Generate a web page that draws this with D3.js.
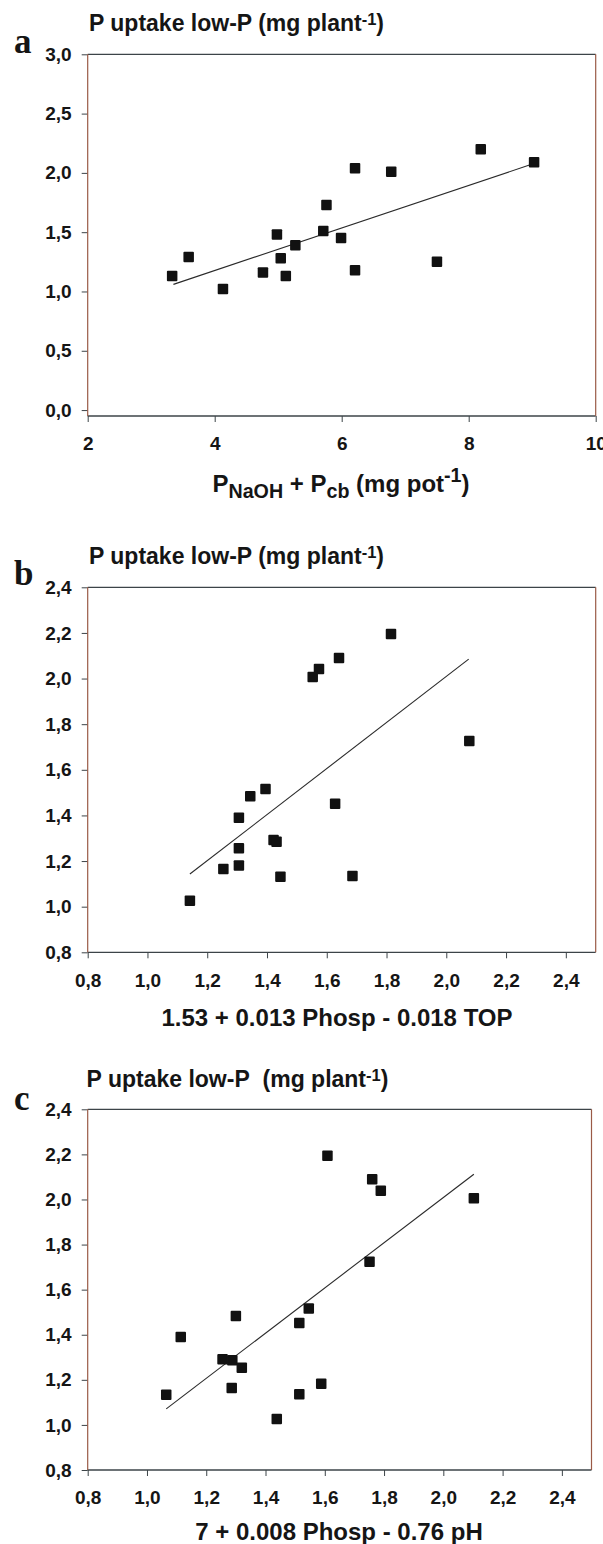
<!DOCTYPE html>
<html>
<head>
<meta charset="utf-8">
<script src="https://cdn.jsdelivr.net/npm/d3@7"></script>
<style>
body { margin: 0; background: #fff; }
svg { display: block; }
.tick text { font-family: "Liberation Sans", Arial, sans-serif; font-weight: bold; font-size: 19px; fill: #151515; }
.tick line { stroke: #3c4448; }
.ttl { font-family: "Liberation Sans", Arial, sans-serif; font-weight: bold; fill: #151515; }
.letter { font-family: "Liberation Serif", "Times New Roman", serif; font-weight: bold; font-size: 35px; fill: #151515; }
</style>
</head>
<body>
<svg width="603" height="1544"></svg>
<script>
// panel a : P uptake vs P NaOH + P cb
var aX = [3.33, 3.59, 4.13, 4.76, 4.98, 5.04, 5.12, 5.27, 5.71, 5.76, 5.99, 6.21, 6.21, 6.78, 7.50, 8.19, 9.03];
var aY = [1.13, 1.29, 1.02, 1.16, 1.48, 1.28, 1.13, 1.39, 1.51, 1.73, 1.45, 2.04, 1.18, 2.01, 1.25, 2.20, 2.09];
var aFit = [[3.35, 1.06], [8.98, 2.07]];
var aXTicks = [2, 4, 6, 8, 10];
var aYTicks = [0, 0.5, 1, 1.5, 2, 2.5, 3];

// panel b : vs 1.53 + 0.013 Phosp - 0.018 TOP
var bX = [1.815, 1.641, 1.574, 1.553, 2.077, 1.395, 1.344, 1.628, 1.306, 1.422, 1.432, 1.306, 1.306, 1.254, 1.445, 1.686, 1.142];
var bY = [2.195, 2.090, 2.042, 2.007, 1.726, 1.516, 1.484, 1.451, 1.390, 1.292, 1.285, 1.256, 1.180, 1.165, 1.131, 1.134, 1.026];
var bFit = [[1.142, 1.143], [2.075, 2.085]];

// panel c : vs 7 + 0.008 Phosp - 0.76 pH
var cX = [1.609, 1.760, 1.789, 2.103, 1.751, 1.546, 1.300, 1.514, 1.114, 1.255, 1.288, 1.320, 1.588, 1.286, 1.065, 1.514, 1.438];
var cY = [2.194, 2.090, 2.039, 2.005, 1.724, 1.516, 1.483, 1.452, 1.390, 1.291, 1.287, 1.254, 1.183, 1.164, 1.134, 1.136, 1.026];
var cFit = [[1.065, 1.071], [2.103, 2.112]];

var bcTicks = [0.8, 1.0, 1.2, 1.4, 1.6, 1.8, 2.0, 2.2, 2.4];

var svg = d3.select("svg");
var comma = d3.formatLocale({decimal: ",", thousands: ".", grouping: [3], currency: ["", ""]}).format(".1f");

var yTitle = [{t: "P uptake low-P (mg plant"}, {t: "-1", sup: true}, {t: ")"}];
var yTitleC = [{t: "P uptake low-P\u00a0\u00a0(mg plant"}, {t: "-1", sup: true}, {t: ")"}];

var panels = [
  {letter: "a", xs: aX, ys: aY, fit: aFit, xDom: [2, 10], yDom: [-0.05, 3], xTicks: aXTicks, yTicks: aYTicks,
   xFmt: d3.format("d"), left: 87.7, right: 595.7, top: 54.3, bottom: 416,
   title: yTitle, titleY: 30.7, titleX: 89, letterY: 53, xTitleY: 491.7, xTitleX: 341,
   xTitle: [{t: "P"}, {t: "NaOH", sub: true}, {t: " + P"}, {t: "cb", sub: true}, {t: " (mg pot"}, {t: "-1", sup: true}, {t: ")"}]},
  {letter: "b", xs: bX, ys: bY, fit: bFit, xDom: [0.8, 2.5], yDom: [0.8, 2.4], xTicks: bcTicks, yTicks: bcTicks,
   xFmt: comma, left: 87.7, right: 595.7, top: 587.3, bottom: 952.3,
   title: yTitle, titleY: 563.5, titleX: 89, letterY: 585, xTitleY: 1025.7, xTitleX: 337,
   xTitle: [{t: "1.53 + 0.013 Phosp - 0.018 TOP"}]},
  {letter: "c", xs: cX, ys: cY, fit: cFit, xDom: [0.8, 2.5], yDom: [0.8, 2.4], xTicks: bcTicks, yTicks: bcTicks,
   xFmt: comma, left: 87.7, right: 591.5, top: 1109.3, bottom: 1470,
   title: yTitleC, titleY: 1086.7, titleX: 86.6, letterY: 1110, xTitleY: 1540, xTitleX: 339,
   xTitle: [{t: "7 + 0.008 Phosp - 0.76 pH"}]}
];

function richText(sel, parts, size, scale, up) {
  var shift = 0;
  parts.forEach(function(p) {
    var target = p.sub ? 6 : (p.sup ? -up : 0);
    sel.append("tspan")
      .attr("dy", target - shift)
      .style("font-size", (p.sub || p.sup ? size * scale : size) + "px")
      .text(p.t);
    shift = target;
  });
}

panels.forEach(function(p) {
  var x = d3.scaleLinear().domain(p.xDom).range([p.left, p.right]);
  var y = d3.scaleLinear().domain(p.yDom).range([p.bottom, p.top]);
  var g = svg.append("g");

  g.append("g")
      .attr("transform", "translate(" + p.left + ",0)")
      .call(d3.axisLeft(y).tickValues(p.yTicks).tickFormat(comma).tickSize(6).tickSizeOuter(0).tickPadding(10))
      .call(function(a) { a.select(".domain").remove(); });

  g.append("g")
      .attr("transform", "translate(0," + p.bottom + ")")
      .call(d3.axisBottom(x).tickValues(p.xTicks).tickFormat(p.xFmt).tickSize(6).tickSizeOuter(0).tickPadding(15))
      .call(function(a) { a.select(".domain").remove(); });

  // frame: horizontals dark, verticals brownish like the print
  g.append("line").attr("x1", p.left).attr("x2", p.right).attr("y1", p.top).attr("y2", p.top)
      .attr("stroke", "#3c4448").attr("stroke-width", 1.3);
  g.append("line").attr("x1", p.left).attr("x2", p.right).attr("y1", p.bottom).attr("y2", p.bottom)
      .attr("stroke", "#3c4448").attr("stroke-width", 1.3);
  g.append("line").attr("x1", p.left).attr("x2", p.left).attr("y1", p.top).attr("y2", p.bottom)
      .attr("stroke", "#9a5a46").attr("stroke-width", 1.2);
  g.append("line").attr("x1", p.right).attr("x2", p.right).attr("y1", p.top).attr("y2", p.bottom)
      .attr("stroke", "#9a5a46").attr("stroke-width", 1.2);

  g.append("path")
      .datum(p.fit)
      .attr("fill", "none")
      .attr("stroke", "#2a2a2a")
      .attr("stroke-width", 1.1)
      .attr("d", d3.line().x(function(d) { return x(d[0]); }).y(function(d) { return y(d[1]); }));

  g.append("g").selectAll("rect")
      .data(d3.range(p.xs.length))
    .enter().append("rect")
      .attr("x", function(i) { return x(p.xs[i]) - 5.25; })
      .attr("y", function(i) { return y(p.ys[i]) - 5.25; })
      .attr("width", 10.5)
      .attr("height", 10.5)
      .attr("rx", 1)
      .attr("fill", "#111");

  richText(g.append("text").attr("class", "ttl").attr("x", p.titleX).attr("y", p.titleY).style("font-size", "23px"),
      p.title, 23, 0.72, 6);

  richText(g.append("text").attr("class", "ttl").attr("x", p.xTitleX).attr("y", p.xTitleY)
      .attr("text-anchor", "middle").style("font-size", "24px"), p.xTitle, 24, 0.82, 10);

  g.append("text").attr("class", "letter").attr("x", 14).attr("y", p.letterY).text(p.letter);
});
</script>
</body>
</html>
